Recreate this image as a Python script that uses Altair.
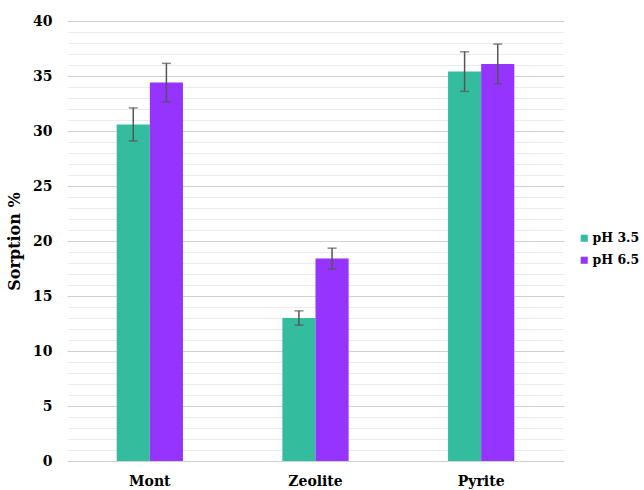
import altair as alt
import pandas as pd

# Sorption (%) of each sorbent at two pH levels, with standard error
materials = ["Mont", "Zeolite", "Pyrite"]
series = ["pH 3.5", "pH 6.5"]
ph35_mean = [30.6, 13.0, 35.4]
ph35_err = [1.5, 0.65, 1.8]
ph65_mean = [34.4, 18.4, 36.1]
ph65_err = [1.75, 0.95, 1.8]
y_ticks = list(range(0, 41))
colors = ["#33BD9E", "#9533FF"]

rows = []
for name, means, errs in [(series[0], ph35_mean, ph35_err), (series[1], ph65_mean, ph65_err)]:
    for m, v, e in zip(materials, means, errs):
        rows.append({"material": m, "series": name, "value": v, "lo": v - e, "hi": v + e})
df = pd.DataFrame(rows)

font = "DejaVu Serif"

x_axis = alt.Axis(labelAngle=0, labelFont=font, labelFontWeight="bold", labelFontSize=14,
                  labelColor="#000000", labelPadding=13, ticks=False, domain=False, grid=False)
y_axis = alt.Axis(
    values=y_ticks,
    labelExpr="datum.value % 5 === 0 ? datum.label : ''",
    labelOverlap=False,
    gridColor={"condition": {"test": "datum.value % 5 === 0", "value": "#d0d0d0"}, "value": "#ebebeb"},
    gridWidth=1,
    ticks=False, domain=False,
    labelFont=font, labelFontWeight="bold", labelFontSize=14, labelColor="#000000",
    labelPadding=15,
    titleFont=font, titleFontWeight="bold", titleFontSize=16, titleColor="#000000",
    titlePadding=10,
)
x_scale = alt.Scale(paddingInner=0.6, paddingOuter=0.3)
y_scale = alt.Scale(domain=[0, 40], nice=False)


def x_enc():
    return alt.X("material:N", sort=materials, title=None, scale=x_scale, axis=x_axis)


def y_enc(field):
    return alt.Y(f"{field}:Q", title="Sorption %", scale=y_scale, axis=y_axis)


x_off = alt.XOffset("series:N", sort=series)
base = alt.Chart(df)

bars = base.mark_bar().encode(
    x=x_enc(),
    xOffset=x_off,
    y=y_enc("value"),
    color=alt.Color(
        "series:N",
        sort=series,
        scale=alt.Scale(domain=series, range=colors),
        legend=alt.Legend(
            title=None, orient="none", legendX=511, legendY=211,
            symbolType="square", symbolSize=50, symbolStrokeWidth=0,
            labelFont=font, labelFontWeight="bold", labelFontSize=12.5, labelColor="#000000",
            rowPadding=9, labelOffset=2,
        ),
    ),
)

err_rule = base.mark_rule(color="#555555", strokeWidth=1.5).encode(
    x=x_enc(), xOffset=x_off, y=y_enc("lo"), y2="hi:Q",
)
cap_lo = base.mark_tick(color="#555555", thickness=1.5, size=9).encode(
    x=x_enc(), xOffset=x_off, y=y_enc("lo"),
)
cap_hi = base.mark_tick(color="#555555", thickness=1.5, size=9).encode(
    x=x_enc(), xOffset=x_off, y=y_enc("hi"),
)

chart = (
    alt.layer(bars, err_rule, cap_lo, cap_hi)
    .properties(
        width=497, height=440,
        autosize=alt.AutoSizeParams(type="none"),
        padding={"left": 67, "top": 21, "right": 80, "bottom": 29},
        view=alt.ViewBackground(strokeWidth=0, stroke="transparent"),
    )
    .configure_view(strokeWidth=0, stroke="transparent")
    .configure(background="#ffffff", font=font)
)

chart.save("out.html", embed_options={"renderer": "svg", "actions": False})
